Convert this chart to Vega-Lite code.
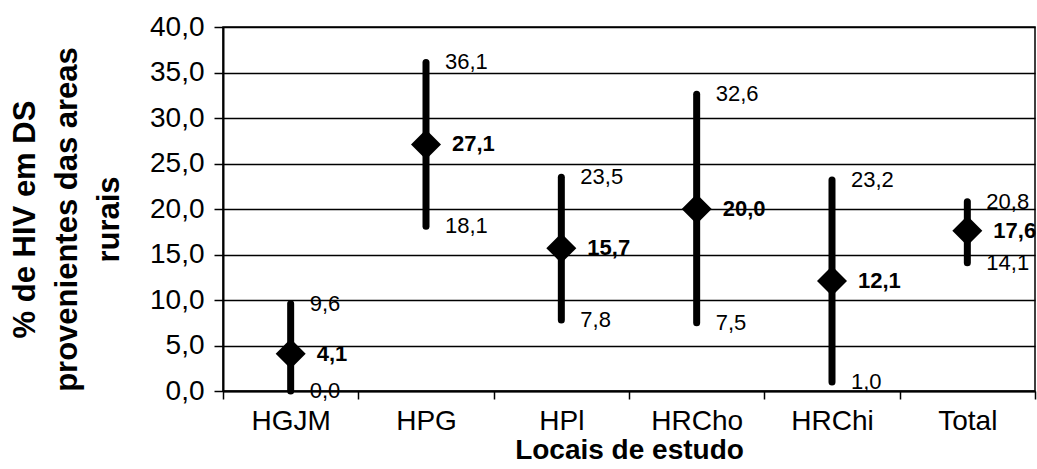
{
  "$schema": "https://vega.github.io/schema/vega-lite/v6.json",
  "width": 812,
  "height": 364,
  "autosize": {"type": "none"},
  "padding": {"left": 223, "top": 27, "right": 2, "bottom": 78},
  "background": "white",
  "config": {
    "locale": {"number": {"decimal": ",", "thousands": ".", "grouping": [3], "currency": ["", ""]}},
    "font": "Liberation Sans",
    "view": {"stroke": "black", "strokeWidth": 1.5},
    "axis": {"domainColor": "black", "tickColor": "black", "labelColor": "black", "titleColor": "black", "gridColor": "black"}
  },
  "data": {
    "values": [
      {"local": "HGJM", "valor": 4.1, "inf": 0.0, "sup": 9.6},
      {"local": "HPG", "valor": 27.1, "inf": 18.1, "sup": 36.1},
      {"local": "HPl", "valor": 15.7, "inf": 7.8, "sup": 23.5},
      {"local": "HRCho", "valor": 20.0, "inf": 7.5, "sup": 32.6},
      {"local": "HRChi", "valor": 12.1, "inf": 1.0, "sup": 23.2},
      {"local": "Total", "valor": 17.6, "inf": 14.1, "sup": 20.8}
    ]
  },
  "encoding": {
    "x": {
      "field": "local", "type": "nominal", "sort": null,
      "scale": {"paddingInner": 0, "paddingOuter": 0},
      "axis": {
        "title": "Locais de estudo", "titleFontSize": 28, "titleFontWeight": "bold",
        "titleY": 67, "titleBaseline": "alphabetic",
        "labelAngle": 0, "labelFontSize": 28, "labelPadding": 8, "labelFontWeight": "normal",
        "tickBand": "extent", "tickSize": 8, "tickWidth": 1.5, "domainWidth": 2
      }
    }
  },
  "layer": [
    {
      "mark": {"type": "rule", "strokeWidth": 7, "strokeCap": "round", "color": "black"},
      "encoding": {
        "y": {
          "field": "inf", "type": "quantitative",
          "scale": {"domain": [0, 40]},
          "axis": {
            "values": [0, 5, 10, 15, 20, 25, 30, 35, 40],
            "format": ".1f", "grid": true, "gridWidth": 1.5,
            "labelFontSize": 28, "labelPadding": 10, "tickSize": 9, "tickWidth": 1.5, "domainWidth": 2,
            "title": ["% de HIV em DS", "provenientes das areas", "rurais"],
            "titleFontSize": 31, "titleFontWeight": "bold", "titleLineHeight": 42,
            "titleAngle": -90, "titleX": -213, "titleY": 192, "titleAlign": "center", "titleBaseline": "top"
          }
        },
        "y2": {"field": "sup"}
      }
    },
    {
      "mark": {"type": "point", "shape": "diamond", "size": 900, "filled": true, "color": "black", "opacity": 1},
      "encoding": {"y": {"field": "valor", "type": "quantitative"}}
    },
    {
      "mark": {"type": "text", "align": "left", "baseline": "middle", "dx": 19, "fontSize": 22, "color": "black"},
      "encoding": {"y": {"field": "sup", "type": "quantitative"}, "text": {"field": "sup", "type": "quantitative", "format": ".1f"}}
    },
    {
      "mark": {"type": "text", "align": "left", "baseline": "middle", "dx": 19, "fontSize": 22, "color": "black"},
      "encoding": {"y": {"field": "inf", "type": "quantitative"}, "text": {"field": "inf", "type": "quantitative", "format": ".1f"}}
    },
    {
      "mark": {"type": "text", "align": "left", "baseline": "middle", "dx": 26, "fontSize": 22, "fontWeight": "bold", "color": "black"},
      "encoding": {"y": {"field": "valor", "type": "quantitative"}, "text": {"field": "valor", "type": "quantitative", "format": ".1f"}}
    }
  ]
}
